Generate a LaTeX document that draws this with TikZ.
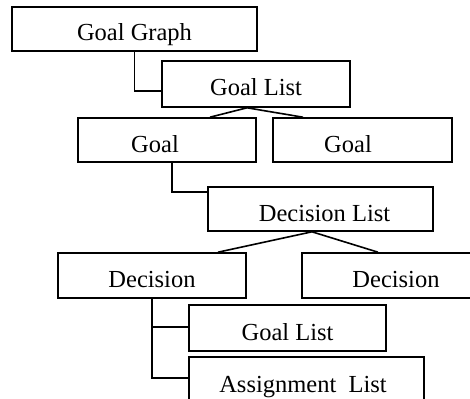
\documentclass[tikz,border=0pt]{standalone}
\usepackage{fontspec}
\setmainfont{Liberation Serif}
\begin{document}
\begin{tikzpicture}[x=1pt,y=1pt,
  box/.style={draw, line width=1.6pt, rectangle, inner sep=0pt,
    text height=24pt, text depth=0pt,
    font=\fontsize{24.5}{28}\selectfont},
  link/.style={line width=1.6pt}]
\useasboundingbox (0,0) rectangle (470,-398);
\fill[white] (0,0) rectangle (470,-398);
\clip (0,0) rectangle (470,-398);
\node[box, minimum width=245pt, minimum height=44pt] (gg) at (134.5,-29) {Goal Graph};
\node[box, minimum width=188pt, minimum height=46pt] (gl1) at (256,-84) {Goal List};
\node[box, minimum width=178pt, minimum height=44pt] (g1) at (167,-140) {Goal\hspace*{24pt}};
\node[box, minimum width=179pt, minimum height=44pt] (g2) at (362.5,-140) {Goal\hspace*{29pt}};
\node[box, minimum width=225pt, minimum height=44pt] (dl) at (320.5,-209) {\hspace*{8pt}Decision List};
\node[box, minimum width=188pt, minimum height=45pt] (d1) at (152,-275.5) {Decision};
\node[box, minimum width=188pt, minimum height=45pt] (d2) at (396,-275.5) {Decision};
\node[box, minimum width=197pt, minimum height=46pt] (gl2) at (287.5,-328) {Goal List};
\node[box, minimum width=235pt, minimum height=46pt] (al) at (306.5,-380) {Assignment\ \ List\hspace*{7pt}};
\draw[link] (gg.south) |- ([yshift=-7pt]gl1.west);
\draw[link] ([xshift=43pt]g1.north) -- ([xshift=-9pt]gl1.south) -- ([xshift=-59.5pt]g2.north);
\draw[link] ([xshift=5pt]g1.south) |- ([yshift=17pt]dl.west);
\draw[link] ([xshift=66pt]d1.north) -- ([xshift=-8.5pt]dl.south) -- ([xshift=-18pt]d2.north);
\draw[link] (d1.south) |- ([yshift=1pt]gl2.west);
\draw[link] (d1.south) |- ([yshift=2pt]al.west);
\end{tikzpicture}
\end{document}
